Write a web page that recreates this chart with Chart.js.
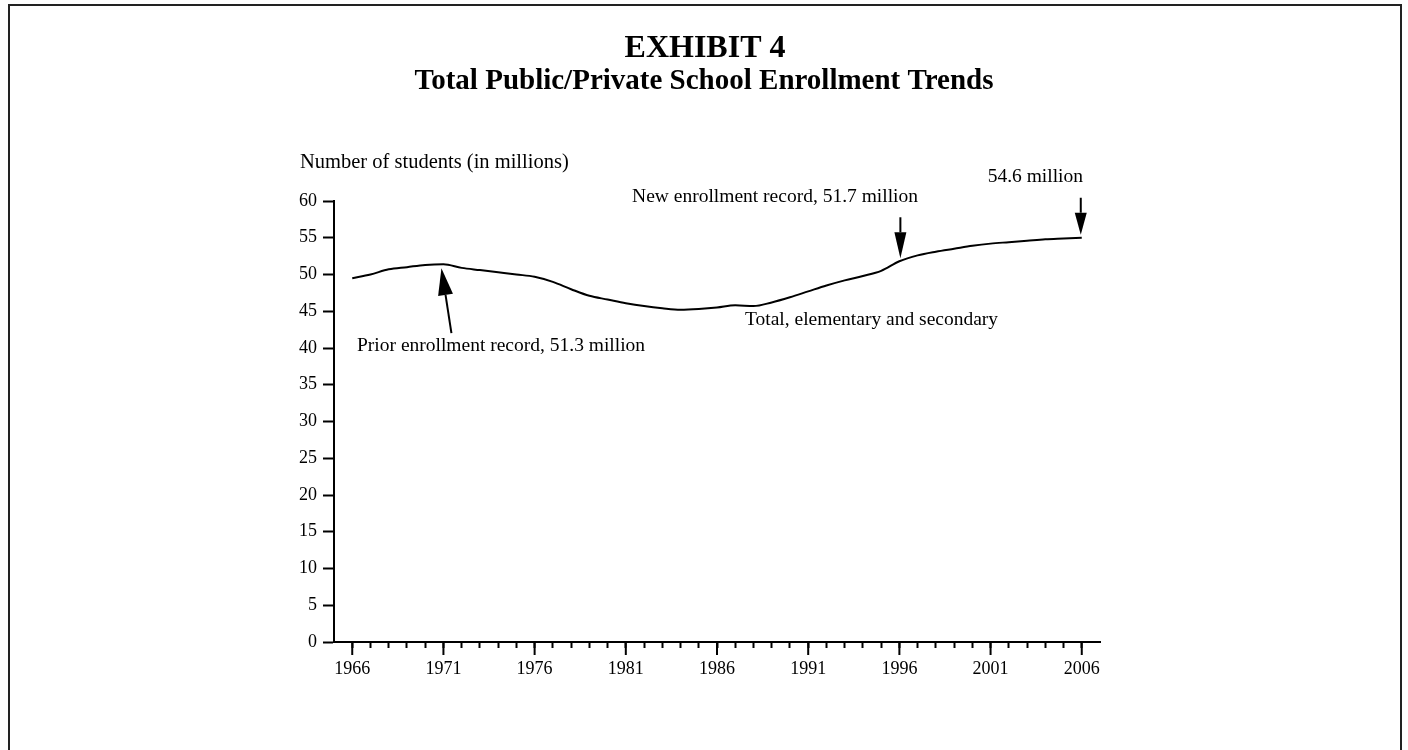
<!DOCTYPE html>
<html>
<head>
<meta charset="utf-8">
<script src="https://cdn.jsdelivr.net/npm/chart.js@4"></script>
<style>
  body { margin: 0; background: #fff; }
  canvas { display: block; }
</style>
</head>
<body>
<canvas id="enrollChart" width="1408" height="750"></canvas>
<script>
const years = [
  1966, 1967, 1968, 1969, 1970, 1971, 1972, 1973, 1974, 1975,
  1976, 1977, 1978, 1979, 1980, 1981, 1982, 1983, 1984, 1985,
  1986, 1987, 1988, 1989, 1990, 1991, 1992, 1993, 1994, 1995,
  1996, 1997, 1998, 1999, 2000, 2001, 2002, 2003, 2004, 2005, 2006
];
const enrollment = [
  49.5, 50.0, 50.7, 51.0, 51.3, 51.4, 50.9, 50.6, 50.3, 50.0,
  49.7, 49.0, 48.0, 47.1, 46.6, 46.1, 45.7, 45.4, 45.2, 45.3,
  45.5, 45.8, 45.7, 46.2, 46.9, 47.7, 48.5, 49.2, 49.8, 50.5,
  51.8, 52.6, 53.1, 53.5, 53.9, 54.2, 54.4, 54.6, 54.8, 54.9, 55.0
];
const yTicks = [0, 5, 10, 15, 20, 25, 30, 35, 40, 45, 50, 55, 60];
const xLabelYears = [1966, 1971, 1976, 1981, 1986, 1991, 1996, 2001, 2006];

const titleLines = ["EXHIBIT 4", "Total Public/Private School Enrollment Trends"];
const yAxisTitle = "Number of students (in millions)";

const SERIF = "'Liberation Serif', 'Times New Roman', serif";

function arrow(ctx, x1, y1, x2, y2, headLen, headW) {
  // shaft from (x1,y1) to tip (x2,y2)
  const ang = Math.atan2(y2 - y1, x2 - x1);
  const bx = x2 - headLen * Math.cos(ang);
  const by = y2 - headLen * Math.sin(ang);
  ctx.beginPath();
  ctx.moveTo(x1, y1);
  ctx.lineTo(bx, by);
  ctx.lineWidth = 2;
  ctx.stroke();
  ctx.beginPath();
  ctx.moveTo(x2, y2);
  ctx.lineTo(bx + headW / 2 * Math.sin(ang), by - headW / 2 * Math.cos(ang));
  ctx.lineTo(bx - headW / 2 * Math.sin(ang), by + headW / 2 * Math.cos(ang));
  ctx.closePath();
  ctx.fill();
}

const exhibitPlugin = {
  id: "exhibit",
  beforeDraw(chart) {
    const ctx = chart.ctx;
    ctx.save();
    ctx.fillStyle = "#fff";
    ctx.fillRect(0, 0, chart.width, chart.height);
    ctx.strokeStyle = "#222";
    ctx.lineWidth = 2;
    ctx.strokeRect(9, 5, 1392, 760);
    ctx.restore();
  },
  afterDraw(chart) {
    const ctx = chart.ctx;
    const x = chart.scales.x;
    const y = chart.scales.y;
    ctx.save();
    ctx.fillStyle = "#000";
    ctx.strokeStyle = "#000";

    // title
    ctx.textAlign = "center";
    ctx.textBaseline = "middle";
    ctx.font = "bold 32px " + SERIF;
    ctx.fillText(titleLines[0], 705, 49);
    ctx.font = "bold 29px " + SERIF;
    ctx.fillText(titleLines[1], 704, 82);

    // axis title
    ctx.textAlign = "left";
    ctx.font = "20.5px " + SERIF;
    ctx.fillText(yAxisTitle, 300, 163);

    // longer major ticks on the x axis
    ctx.lineWidth = 2;
    xLabelYears.forEach((yr) => {
      const px = x.getPixelForValue(yr);
      ctx.beginPath();
      ctx.moveTo(px, y.bottom);
      ctx.lineTo(px, y.bottom + 13);
      ctx.stroke();
    });

    // annotations
    ctx.font = "19.5px " + SERIF;
    ctx.textAlign = "left";
    ctx.fillText("Prior enrollment record, 51.3 million", 357, 346);
    ctx.fillText("Total, elementary and secondary", 745, 320);
    ctx.textAlign = "right";
    ctx.fillText("New enrollment record, 51.7 million", 918, 197);
    ctx.fillText("54.6 million", 1083, 177);

    const i71 = years.indexOf(1971);
    const t1x = x.getPixelForValue(1971) - 2;
    const t1y = y.getPixelForValue(enrollment[i71]) + 4;
    arrow(ctx, t1x + 10, t1y + 65, t1x, t1y, 27, 15);

    const i96 = years.indexOf(1996);
    const t2x = x.getPixelForValue(1996) + 1;
    const t2y = y.getPixelForValue(enrollment[i96]) - 3;
    arrow(ctx, t2x, t2y - 41, t2x, t2y, 26, 12);

    const i06 = years.indexOf(2006);
    const t3x = x.getPixelForValue(2006) - 1;
    const t3y = y.getPixelForValue(enrollment[i06]) - 3;
    arrow(ctx, t3x, t3y - 37, t3x, t3y, 22, 12);

    ctx.restore();
  }
};

new Chart(document.getElementById("enrollChart"), {
  type: "line",
  data: {
    datasets: [{
      label: "Total, elementary and secondary",
      data: years.map((yr, i) => ({ x: yr, y: enrollment[i] })),
      borderColor: "#000",
      borderWidth: 2,
      pointRadius: 0,
      fill: false,
      cubicInterpolationMode: "monotone"
    }]
  },
  options: {
    responsive: false,
    animation: false,
    layout: { padding: { left: 274, right: 308, top: 201, bottom: 58 } },
    plugins: {
      legend: { display: false },
      tooltip: { enabled: false },
      title: { display: false }
    },
    scales: {
      x: {
        type: "linear",
        min: 1965,
        max: 2007,
        afterFit: (s) => { s.height = 50; },
        afterBuildTicks: (s) => {
          const t = [];
          for (let v = 1966; v <= 2006; v++) t.push({ value: v });
          s.ticks = t;
        },
        ticks: {
          autoSkip: false,
          maxRotation: 0,
          padding: 10,
          color: "#000",
          font: { family: SERIF, size: 18 },
          callback: (v) => (xLabelYears.includes(v) ? String(v) : "")
        },
        grid: {
          drawOnChartArea: false,
          tickLength: 6,
          tickColor: "#000",
          tickWidth: 2
        },
        border: { display: true, color: "#000", width: 2 }
      },
      y: {
        min: 0,
        max: 60,
        afterFit: (s) => { s.width = 60; },
        afterBuildTicks: (s) => { s.ticks = yTicks.map((v) => ({ value: v })); },
        ticks: {
          padding: 6,
          color: "#000",
          font: { family: SERIF, size: 18 }
        },
        grid: {
          drawOnChartArea: false,
          tickLength: 11,
          tickColor: "#000",
          tickWidth: 2
        },
        border: { display: true, color: "#000", width: 2 }
      }
    }
  },
  plugins: [exhibitPlugin]
});
</script>
</body>
</html>
